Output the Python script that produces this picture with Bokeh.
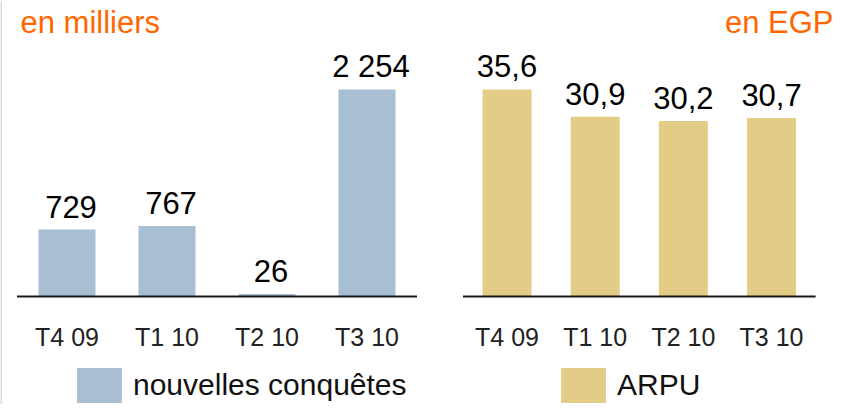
from bokeh.plotting import figure
from bokeh.models import Range1d, ColumnDataSource, Legend, LegendItem, Label, Span
from bokeh.core.properties import value
from bokeh.embed import file_html
from bokeh.resources import INLINE

# ---- data ----
categories = ["T4 09", "T1 10", "T2 10", "T3 10"]
conquetes = [729, 767, 26, 2254]          # en milliers
arpu = [35.6, 30.9, 30.2, 30.7]           # en EGP
conquetes_labels = [f"{v:,}".replace(",", " ") for v in conquetes]
arpu_labels = [f"{v:.1f}".replace(".", ",") for v in arpu]
left_unit = "en milliers"
right_unit = "en EGP"
left_series = "nouvelles conquêtes"
right_series = "ARPU"

BLUE = "#a7bed3"
GOLD = "#e3cc85"
ORANGE = "#ff6600"
FONT = "Liberation Sans"

W, H = 834, 404
n = len(categories)
idx = list(range(n))

p = figure(width=W, height=H, output_backend="svg", toolbar_location=None,
           x_axis_type=None, y_axis_type=None, min_border=0,
           x_range=Range1d(-0.665, 7.675), y_range=Range1d(-1176.0, 3223.1))
p.extra_x_ranges = {"rx": Range1d(-5.745, 3.714)}
p.extra_y_ranges = {"ry": Range1d(-18.574, 50.906)}
p.outline_line_color = None
p.background_fill_color = "white"
p.border_fill_color = "white"

# faint left border
p.add_layout(Span(location=p.x_range.start, dimension="height", line_color="#dedede", line_width=3))

left_src = ColumnDataSource(dict(x=idx, v=conquetes, lab=conquetes_labels, cat=categories, zero=[0]*n))
right_src = ColumnDataSource(dict(x=idx, v=arpu, lab=arpu_labels, cat=categories, zero=[0]*n))

# bars
rb = p.vbar(x="x", top="v", bottom=0, width=0.57, source=left_src,
            fill_color=BLUE, line_color=None)
gb = p.vbar(x="x", top="v", bottom=0, width=0.556, source=right_src,
            fill_color=GOLD, line_color=None, x_range_name="rx", y_range_name="ry")

# baselines
p.segment(x0=[-0.5], x1=[n - 0.5], y0=[0], y1=[0], line_color="#1a1a1a", line_width=2)
p.segment(x0=[-0.5], x1=[n - 0.5], y0=[0], y1=[0], line_color="#1a1a1a", line_width=2,
          x_range_name="rx", y_range_name="ry")

# value labels
p.text(x="x", y="v", text="lab", source=left_src, text_align="center",
       text_baseline="alphabetic", x_offset=4, y_offset=-23, text_font=value(FONT),
       text_font_size="31px", text_color="black")
p.text(x="x", y="v", text="lab", source=right_src, text_align="center",
       text_baseline="alphabetic", y_offset=-23, text_font=value(FONT),
       text_font_size="31px", text_color="black",
       x_range_name="rx", y_range_name="ry")

# category labels
p.text(x="x", y="zero", text="cat", source=left_src, text_align="center",
       text_baseline="alphabetic", y_offset=41, text_font=value(FONT),
       text_font_size="25px", text_color="#222222")
p.text(x="x", y="zero", text="cat", source=right_src, text_align="center",
       text_baseline="alphabetic", y_offset=41, text_font=value(FONT),
       text_font_size="25px", text_color="#222222",
       x_range_name="rx", y_range_name="ry")

# unit titles
p.add_layout(Label(x=20, y=382, x_units="screen", y_units="screen", text=left_unit,
                   text_font=FONT, text_font_size="31px", text_color=ORANGE,
                   text_baseline="alphabetic", text_align="left"))
p.add_layout(Label(x=833, y=382, x_units="screen", y_units="screen", text=right_unit,
                   text_font=FONT, text_font_size="31px", text_color=ORANGE,
                   text_baseline="alphabetic", text_align="right"))

# legends
def make_legend(label, r, x):
    lg = Legend(items=[LegendItem(label=label, renderers=[r])], location=(x, -2.5),
                glyph_width=56, glyph_height=44, label_standoff=6, padding=0, margin=0,
                border_line_color=None, background_fill_alpha=0,
                label_text_font=FONT, label_text_font_size="30px", label_text_color="#111111")
    return lg

p.add_layout(make_legend(left_series, rb, 71))
p.add_layout(make_legend(right_series, gb, 555))

open("out.html", "w").write(file_html(p, INLINE))
